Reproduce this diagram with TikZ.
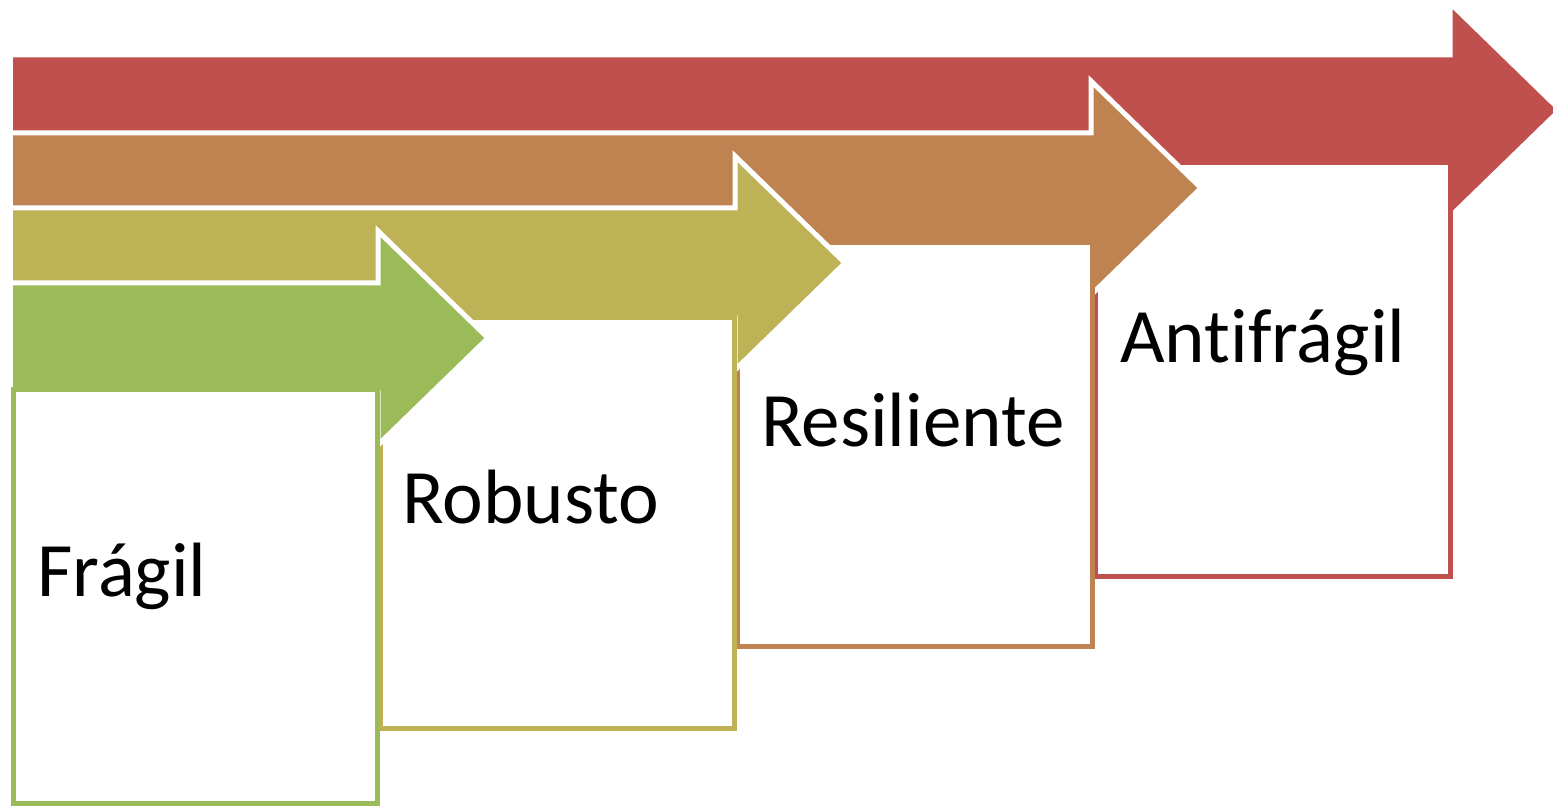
\documentclass[tikz,border=0pt]{standalone}
\usepackage{fontspec}
\setmainfont{Carlito}[Ligatures={NoCommon}]
\definecolor{cgreen}{RGB}{155,187,89}
\definecolor{cyellow}{RGB}{190,178,87}
\definecolor{corange}{RGB}{191,131,81}
\definecolor{cred}{RGB}{192,80,77}
\newcommand\steparrow[3]{%
  \fill[#3] (13,#2-55) -- (#1,#2-55) -- (#1,#2-107) -- (#1+110,#2) -- (#1,#2+107) -- (#1,#2+55) -- (13,#2+55) -- cycle;
  \draw[arrowline] (13,#2-55) -- (#1,#2-55) -- (#1,#2-107) -- (#1+110,#2) -- (#1,#2+107) -- (#1,#2+55) -- (13,#2+55);
}
\begin{document}
\begin{tikzpicture}[x=0.5pt,y=-0.5pt,
  arrowline/.style={draw=white,line width=2.5pt,line join=miter},
  stepbox/.style={fill=white,line width=2.5pt,line join=miter},
  steplabel/.style={anchor=base west,inner sep=0pt,font=\fontsize{38.5}{46}\selectfont}]
\useasboundingbox (0,0) rectangle (1553,806);
\begin{scope}
\clip (0,0) rectangle (1553,806);
% red step
\steparrow{1450}{110}{cred}
\draw[stepbox,draw=cred] (1095,163) rectangle (1450,577);
% orange step
\steparrow{1091}{188}{corange}
\draw[stepbox,draw=corange] (737,243) rectangle (1092,647);
% yellow step
\steparrow{735}{263}{cyellow}
\draw[stepbox,draw=cyellow] (380,318) rectangle (734,728);
% green step
\steparrow{378}{338}{cgreen}
\draw[stepbox,draw=cgreen] (13.5,390) rectangle (377,803);
\end{scope}
\node[steplabel] (fragil) at (37,597) {Frágil};
\node[steplabel] (robusto) at (402,524) {Robusto};
\node[steplabel] (resiliente) at (761,447) {Resiliente};
\node[steplabel] (antifragil) at (1120,363) {Antifrágil};
\end{tikzpicture}
\end{document}
